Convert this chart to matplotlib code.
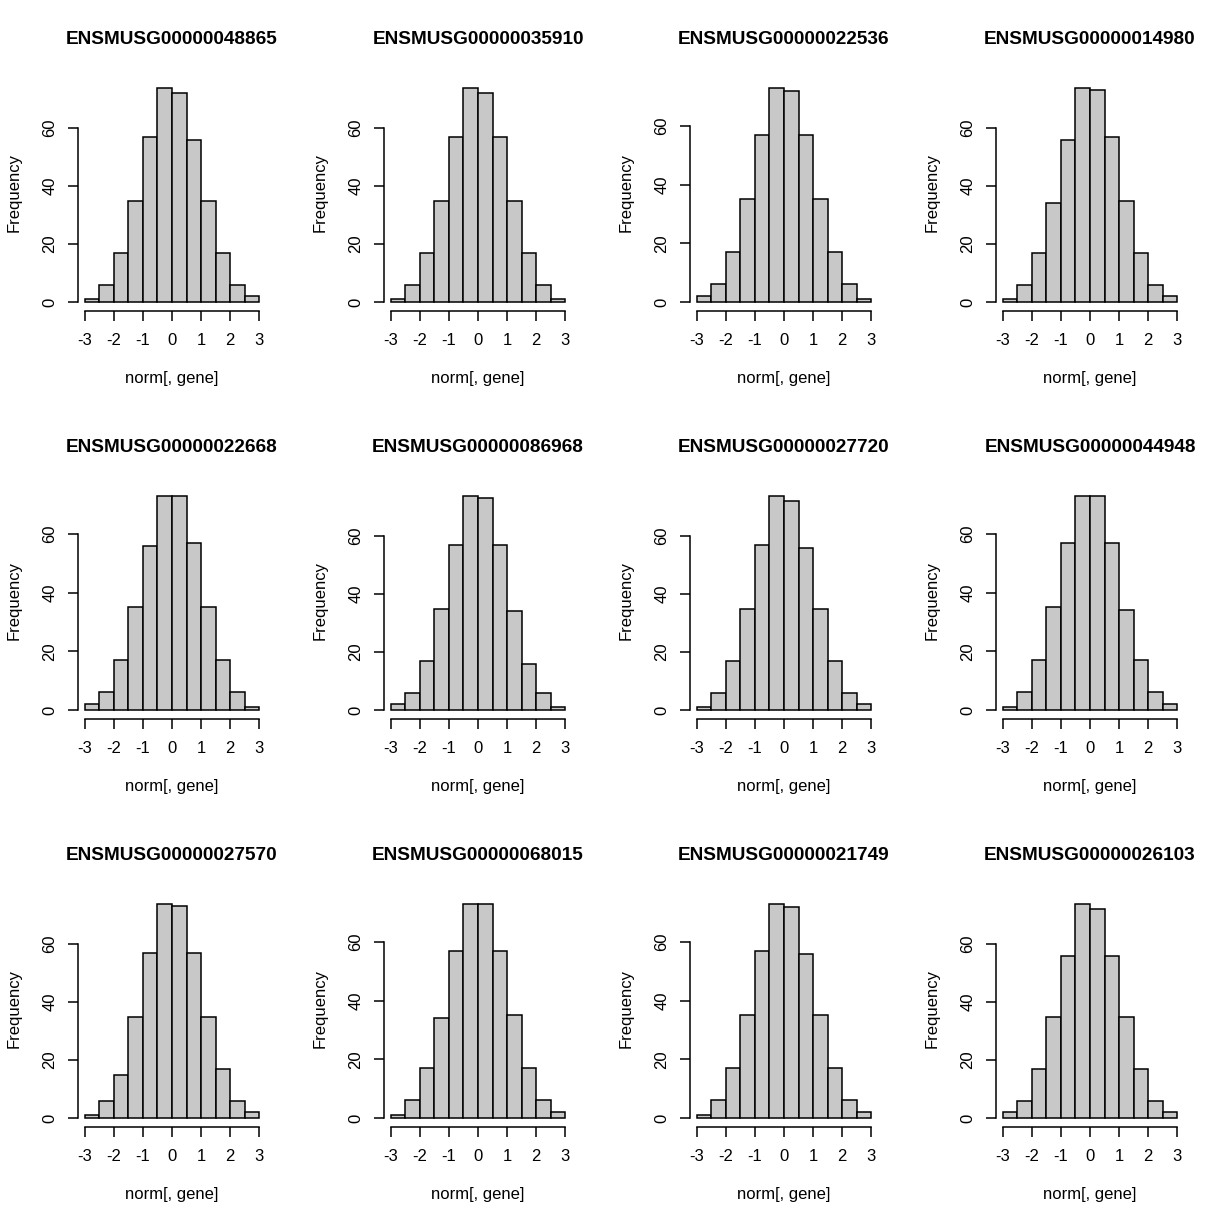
import matplotlib
matplotlib.use("Agg")
import matplotlib.pyplot as plt
import numpy as np

plt.rcParams['font.family'] = ['Liberation Sans', 'DejaVu Sans']
plt.rcParams['axes.unicode_minus'] = False

genes = [
    "ENSMUSG00000048865", "ENSMUSG00000035910", "ENSMUSG00000022536", "ENSMUSG00000014980",
    "ENSMUSG00000022668", "ENSMUSG00000086968", "ENSMUSG00000027720", "ENSMUSG00000044948",
    "ENSMUSG00000027570", "ENSMUSG00000068015", "ENSMUSG00000021749", "ENSMUSG00000026103",
]

breaks = np.arange(-3, 3.01, 0.5)

counts = [
    [1, 6, 17, 35, 57, 74, 72, 56, 35, 17, 6, 2],
    [1, 6, 17, 35, 57, 74, 72, 57, 35, 17, 6, 1],
    [2, 6, 17, 35, 57, 73, 72, 57, 35, 17, 6, 1],
    [1, 6, 17, 34, 56, 74, 73, 57, 35, 17, 6, 2],
    [2, 6, 17, 35, 56, 73, 73, 57, 35, 17, 6, 1],
    [2, 6, 17, 35, 57, 74, 73, 57, 34, 16, 6, 1],
    [1, 6, 17, 35, 57, 74, 72, 56, 35, 17, 6, 2],
    [1, 6, 17, 35, 57, 73, 73, 57, 34, 17, 6, 2],
    [1, 6, 15, 35, 57, 74, 73, 57, 35, 17, 6, 2],
    [1, 6, 17, 34, 57, 73, 73, 57, 35, 17, 6, 2],
    [1, 6, 17, 35, 57, 73, 72, 56, 35, 17, 6, 2],
    [2, 6, 17, 35, 56, 74, 72, 56, 35, 17, 6, 2],
]

W = H = 1224
fig = plt.figure(figsize=(12.24, 12.24), dpi=100)

for i, gene in enumerate(genes):
    r, c = divmod(i, 4)
    left = 306 * c + 78
    top = 408 * r + 79
    bottom = 408 * r + 310.6
    ax = fig.add_axes([left / W, 1 - bottom / H, 188 / W, (bottom - top) / H])
    cnt = counts[i]
    ax.bar(breaks[:-1], cnt, width=0.5, align='edge', color='#C8C8C8',
           edgecolor='black', linewidth=1.1)
    ymax = max(cnt)
    ax.set_xlim(-3.24, 3.24)
    ax.set_ylim(-0.04 * ymax, 1.04 * ymax)
    ax.set_xticks(range(-3, 4))
    ax.set_yticks([0, 20, 40, 60])
    for s in ['top', 'right']:
        ax.spines[s].set_visible(False)
    ax.spines['left'].set_bounds(0, 60)
    ax.spines['bottom'].set_bounds(-3, 3)
    ax.spines['left'].set_linewidth(1.1)
    ax.spines['bottom'].set_linewidth(1.1)
    ax.tick_params(direction='out', length=7, width=1.1, labelsize=12)
    ax.tick_params(axis='x', pad=9)
    ax.tick_params(axis='y', pad=8)
    for lab in ax.get_yticklabels():
        lab.set_rotation(90)
        lab.set_va('center')
    ax.patch.set_visible(False)

    cx = (306 * c + 78 + 94) / W
    fig.text(cx, 1 - (408 * r + 40) / H, gene, ha='center', va='center',
             fontsize=13.7, fontweight='bold')
    fig.text(cx, 1 - (408 * r + 379) / H, "norm[, gene]", ha='center', va='center',
             fontsize=12)
    fig.text((306 * c + 14) / W, 1 - (408 * r + 193) / H, "Frequency", ha='center',
             va='center', rotation=90, fontsize=12)

fig.savefig("out.png", dpi=100, facecolor='white')
